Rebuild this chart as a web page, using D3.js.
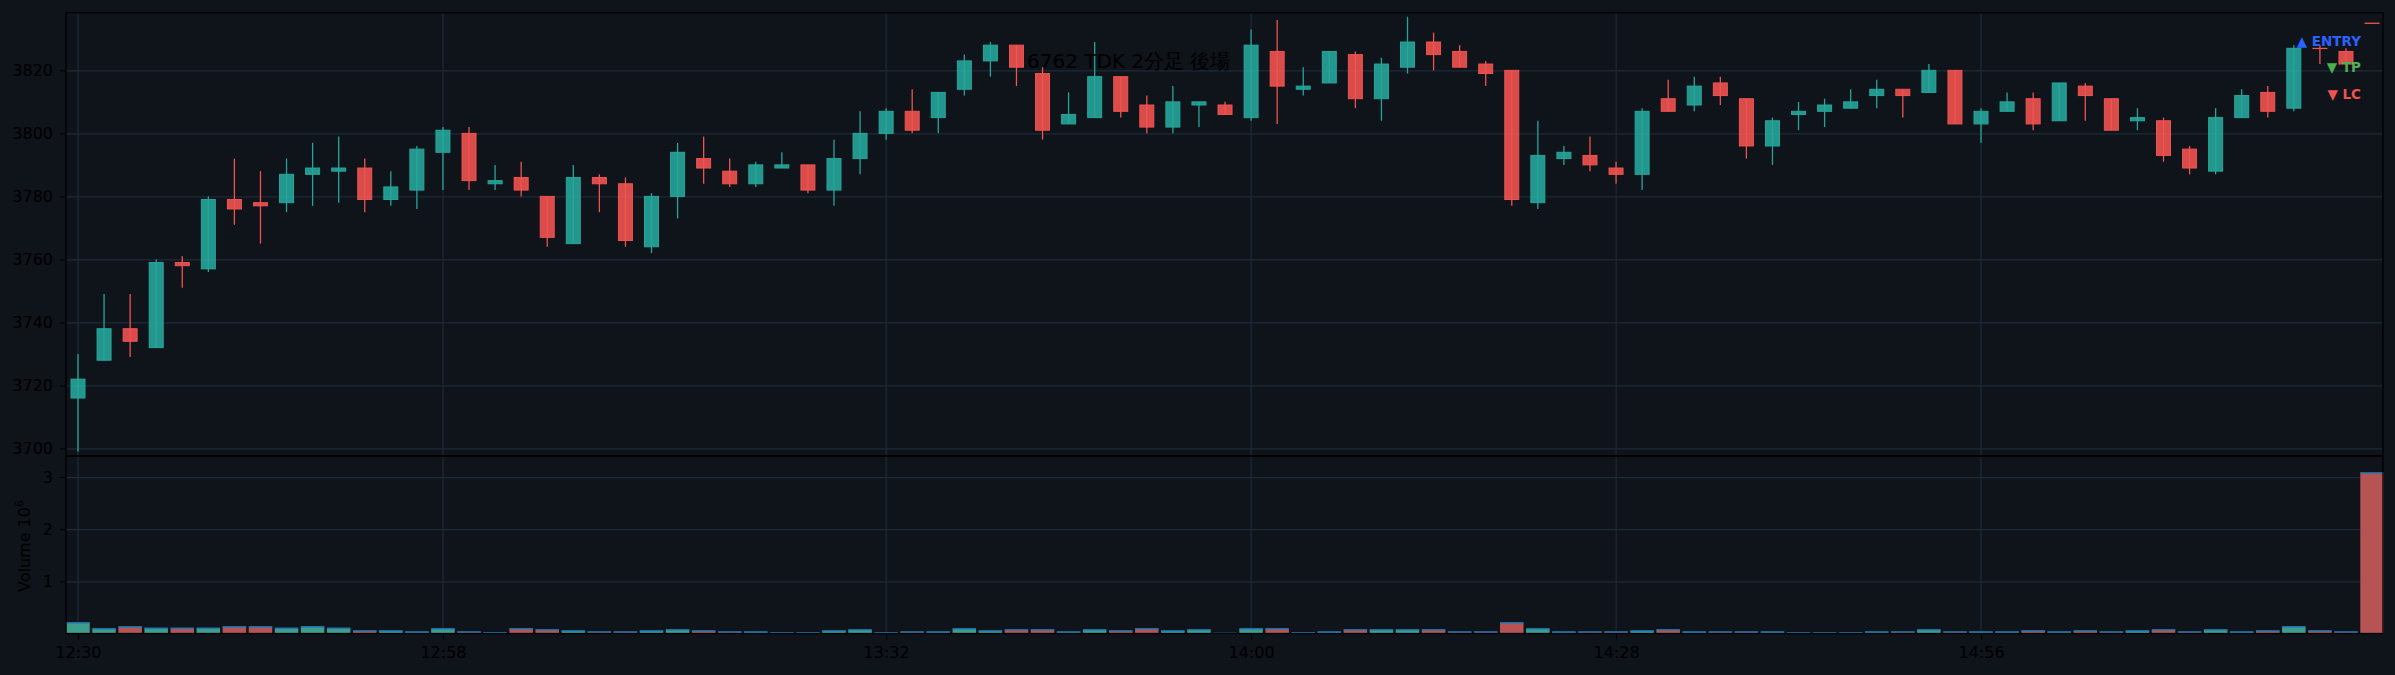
<!DOCTYPE html>
<html>
<head>
<meta charset="utf-8">
<script src="https://cdn.jsdelivr.net/npm/d3@7"></script>
<style>
  body { margin: 0; background: #0f131a; }
  svg { display: block; }
</style>
</head>
<body>
<div id="chart"></div>
<script>
// 6762 TDK, 2-minute bars, afternoon session
const chartTitle = "6762 TDK 2分足 後場"
const sessionStart = "12:30"
const barMinutes = 2
const timeTicks = ["12:30", "12:58", "13:32", "14:00", "14:28", "14:56"]
const priceTicks = [3700, 3720, 3740, 3760, 3780, 3800, 3820]
const volumeTicks = [1, 2, 3]   // x 10^6
const legendItems = [
    {label: "▲ ENTRY", color: "#2962ff"},
    {label: "▼ TP", color: "#4caf50"},
    {label: "▼ LC", color: "#ef5350"}
]

const open = [
    3716, 3728, 3738, 3732, 3759, 3757, 3779, 3778, 3778, 3787,
    3788, 3789, 3779, 3782, 3794, 3800, 3784, 3786, 3780, 3765,
    3786, 3784, 3764, 3780, 3792, 3788, 3784, 3789, 3790, 3782,
    3792, 3800, 3807, 3805, 3814, 3823, 3828, 3819, 3803, 3805,
    3818, 3809, 3802, 3809, 3809, 3805, 3826, 3814, 3816, 3825,
    3811, 3821, 3829, 3826, 3822, 3820, 3778, 3792, 3793, 3789,
    3787, 3811, 3809, 3816, 3811, 3796, 3806, 3807, 3808, 3812,
    3814, 3813, 3820, 3803, 3807, 3811, 3804, 3815, 3811, 3804,
    3804, 3795, 3788, 3805, 3813, 3808, 3827, 3826, 3835]
const high = [
    3730, 3749, 3749, 3760, 3761, 3780, 3792, 3788, 3792, 3797,
    3799, 3792, 3788, 3796, 3802, 3802, 3790, 3791, 3780, 3790,
    3787, 3786, 3781, 3797, 3799, 3792, 3791, 3794, 3790, 3798,
    3807, 3808, 3814, 3813, 3825, 3829, 3828, 3821, 3813, 3829,
    3818, 3812, 3815, 3810, 3810, 3833, 3836, 3821, 3826, 3826,
    3824, 3837, 3832, 3828, 3823, 3820, 3804, 3796, 3799, 3791,
    3808, 3817, 3818, 3818, 3811, 3805, 3810, 3811, 3814, 3817,
    3814, 3822, 3820, 3808, 3813, 3813, 3816, 3816, 3811, 3808,
    3805, 3796, 3808, 3814, 3815, 3828, 3828, 3827, 3835]
const low = [
    3699, 3728, 3729, 3732, 3751, 3756, 3771, 3765, 3775, 3777,
    3778, 3775, 3777, 3776, 3782, 3782, 3782, 3780, 3764, 3765,
    3775, 3764, 3762, 3773, 3784, 3783, 3783, 3789, 3781, 3777,
    3787, 3798, 3800, 3800, 3812, 3818, 3815, 3798, 3803, 3805,
    3805, 3800, 3800, 3802, 3806, 3804, 3803, 3812, 3816, 3808,
    3804, 3819, 3820, 3821, 3815, 3777, 3776, 3790, 3788, 3784,
    3782, 3807, 3807, 3809, 3792, 3790, 3801, 3802, 3808, 3808,
    3805, 3813, 3803, 3797, 3807, 3801, 3804, 3804, 3801, 3801,
    3791, 3787, 3787, 3805, 3805, 3807, 3822, 3822, 3835]
const close = [
    3722, 3738, 3734, 3759, 3758, 3779, 3776, 3777, 3787, 3789,
    3789, 3779, 3783, 3795, 3801, 3785, 3785, 3782, 3767, 3786,
    3784, 3766, 3780, 3794, 3789, 3784, 3790, 3790, 3782, 3792,
    3800, 3807, 3801, 3813, 3823, 3828, 3821, 3801, 3806, 3818,
    3807, 3802, 3810, 3810, 3806, 3828, 3815, 3815, 3826, 3811,
    3822, 3829, 3825, 3821, 3819, 3779, 3793, 3794, 3790, 3787,
    3807, 3807, 3815, 3812, 3796, 3804, 3807, 3809, 3810, 3814,
    3812, 3820, 3803, 3807, 3810, 3803, 3816, 3812, 3801, 3805,
    3793, 3789, 3805, 3812, 3807, 3827, 3827, 3822, 3835]
const volume = [
    205000, 90000, 128000, 100000, 100000, 100000, 128000, 128000, 100000, 128000,
    100000, 50000, 50000, 30000, 90000, 30000, 13000, 90000, 70000, 50000,
    30000, 30000, 50000, 70000, 50000, 30000, 30000, 13000, 13000, 50000,
    70000, 13000, 30000, 30000, 90000, 50000, 70000, 70000, 30000, 70000,
    50000, 90000, 50000, 70000, 3000, 90000, 90000, 13000, 30000, 70000,
    70000, 70000, 70000, 30000, 30000, 205000, 90000, 30000, 30000, 30000,
    50000, 70000, 30000, 30000, 30000, 30000, 13000, 13000, 13000, 30000,
    30000, 70000, 30000, 30000, 30000, 50000, 30000, 50000, 30000, 50000,
    70000, 30000, 70000, 30000, 50000, 128000, 50000, 30000, 3080000]

const bars = open.map((o, i) => ({i: i, o: o, h: high[i], l: low[i], c: close[i], v: volume[i]}))

function toMinutes(t) {
    const p = t.split(":")
    return +p[0] * 60 + +p[1]
}

drawChart(bars)

function drawChart(data) {
    const width = 2395, height = 675
    const left = 66, right = 2383
    const top = 12.7, mid = 456, bottom = 633.5

    const upColor = "#26a69a", downColor = "#ef5350"
    const gridColor = "#1d2b39"
    const font = "DejaVu Sans, sans-serif"

    const svg = d3.select("#chart")
        .append("svg")
        .attr("width", width)
        .attr("height", height)

    svg.append("rect")
        .attr("width", width)
        .attr("height", height)
        .attr("fill", "#0f131a")

    // scales
    const xScale = d3.scaleLinear()
        .domain([-0.46, data.length - 1 + 0.42])
        .range([left, right])
    const yScale = d3.scaleLinear()
        .domain([3697.6, 3838.3])
        .range([mid, top])
    const vScale = d3.scaleLinear()
        .domain([0, 3.404e6])
        .range([bottom, mid])

    const tickIndex = timeTicks.map(t => (toMinutes(t) - toMinutes(sessionStart)) / barMinutes)

    // grid
    svg.append("g")
        .attr("transform", `translate(${left},0)`)
        .call(d3.axisLeft(yScale).tickValues(priceTicks).tickSize(-(right - left)).tickFormat(""))
        .call(g => g.select(".domain").remove())
        .selectAll("line").attr("stroke", gridColor).attr("stroke-width", 1.2)

    svg.append("g")
        .attr("transform", `translate(${left},0)`)
        .call(d3.axisLeft(vScale).tickValues(volumeTicks.map(d => d * 1e6)).tickSize(-(right - left)).tickFormat(""))
        .call(g => g.select(".domain").remove())
        .selectAll("line").attr("stroke", gridColor).attr("stroke-width", 1.2)

    svg.append("g")
        .selectAll("line")
        .data(tickIndex)
        .enter()
        .append("line")
        .attr("x1", d => xScale(d))
        .attr("x2", d => xScale(d))
        .attr("y1", top)
        .attr("y2", bottom)
        .attr("stroke", gridColor)
        .attr("stroke-width", 1.2)

    // volume bars
    const barW = 23.5
    const vol = svg.append("g")
    vol.selectAll("rect")
        .data(data)
        .enter()
        .append("rect")
        .attr("x", d => xScale(d.i) - barW / 2)
        .attr("width", barW)
        .attr("y", d => vScale(d.v))
        .attr("height", d => vScale(0) - vScale(d.v))
        .attr("fill", d => d.c > d.o ? "#3e9d8d" : "#b65455")
    vol.selectAll("line")
        .data(data)
        .enter()
        .append("line")
        .attr("x1", d => xScale(d.i) - barW / 2)
        .attr("x2", d => xScale(d.i) + barW / 2)
        .attr("y1", d => vScale(d.v))
        .attr("y2", d => vScale(d.v))
        .attr("stroke", "#1f77b4")
        .attr("stroke-width", 1.5)

    // candles
    const bodyW = 14
    const candles = svg.append("g")
        .selectAll("g")
        .data(data)
        .enter()
        .append("g")

    candles.append("line")
        .attr("x1", d => xScale(d.i))
        .attr("x2", d => xScale(d.i))
        .attr("y1", d => yScale(d.h))
        .attr("y2", d => yScale(d.l))
        .attr("stroke", d => d.c > d.o ? upColor : downColor)
        .attr("stroke-width", 1.3)

    // flat (doji) bodies still get a visible line
    candles.append("rect")
        .attr("x", d => xScale(d.i) - bodyW / 2)
        .attr("width", bodyW)
        .attr("y", d => yScale(Math.max(d.o, d.c)))
        .attr("height", d => Math.max(Math.abs(yScale(d.o) - yScale(d.c)), 0.3))
        .attr("fill", d => d.c > d.o ? upColor : downColor)
        .attr("fill-opacity", 0.9)
        .attr("stroke", d => d.c > d.o ? upColor : downColor)
        .attr("stroke-width", 1)

    // spines
    svg.append("rect")
        .attr("x", left).attr("y", top)
        .attr("width", right - left).attr("height", mid - top)
        .attr("fill", "none").attr("stroke", "#000").attr("stroke-width", 1.3)
    svg.append("rect")
        .attr("x", left).attr("y", mid)
        .attr("width", right - left).attr("height", bottom - mid)
        .attr("fill", "none").attr("stroke", "#000").attr("stroke-width", 1.3)

    // axes
    const yAxisGroup = svg.append("g")
        .attr("transform", `translate(${left},0)`)
        .call(d3.axisLeft(yScale).tickValues(priceTicks).tickSize(6).tickPadding(7)
            .tickFormat(d3.format("d")))
    const vAxisGroup = svg.append("g")
        .attr("transform", `translate(${left},0)`)
        .call(d3.axisLeft(vScale).tickValues(volumeTicks.map(d => d * 1e6)).tickSize(6).tickPadding(7)
            .tickFormat(d => d / 1e6))
    const xAxisGroup = svg.append("g")
        .attr("transform", `translate(0,${bottom})`)
        .call(d3.axisBottom(xScale).tickValues(tickIndex).tickSize(6).tickPadding(7)
            .tickFormat((d, k) => timeTicks[k]))

    for (const g of [yAxisGroup, vAxisGroup, xAxisGroup]) {
        g.select(".domain").remove()
        g.selectAll("line").attr("stroke", "#000").attr("stroke-width", 1)
        g.selectAll("text")
            .attr("fill", "#000")
            .attr("font-family", font)
            .attr("font-size", 16)
    }

    // volume label
    const vLabel = svg.append("text")
        .attr("transform", "translate(30,546) rotate(-90)")
        .attr("text-anchor", "middle")
        .attr("font-family", font)
        .attr("font-size", 16)
        .attr("fill", "#000")
    vLabel.append("tspan").text("Volume  10")
    vLabel.append("tspan").attr("dy", -7).attr("font-size", 11).text("6")

    // title
    svg.append("text")
        .attr("x", 1027)
        .attr("y", 67.5)
        .attr("font-family", font)
        .attr("font-size", 20)
        .attr("fill", "#000")
        .text(chartTitle)

    // trade markers legend
    svg.append("g")
        .selectAll("text")
        .data(legendItems)
        .enter()
        .append("text")
        .attr("x", 2361)
        .attr("y", (d, k) => 45.7 + k * 26.5)
        .attr("text-anchor", "end")
        .attr("font-family", font)
        .attr("font-weight", "bold")
        .attr("font-size", 13.5)
        .attr("fill", d => d.color)
        .text(d => d.label)
}
</script>
</body>
</html>
